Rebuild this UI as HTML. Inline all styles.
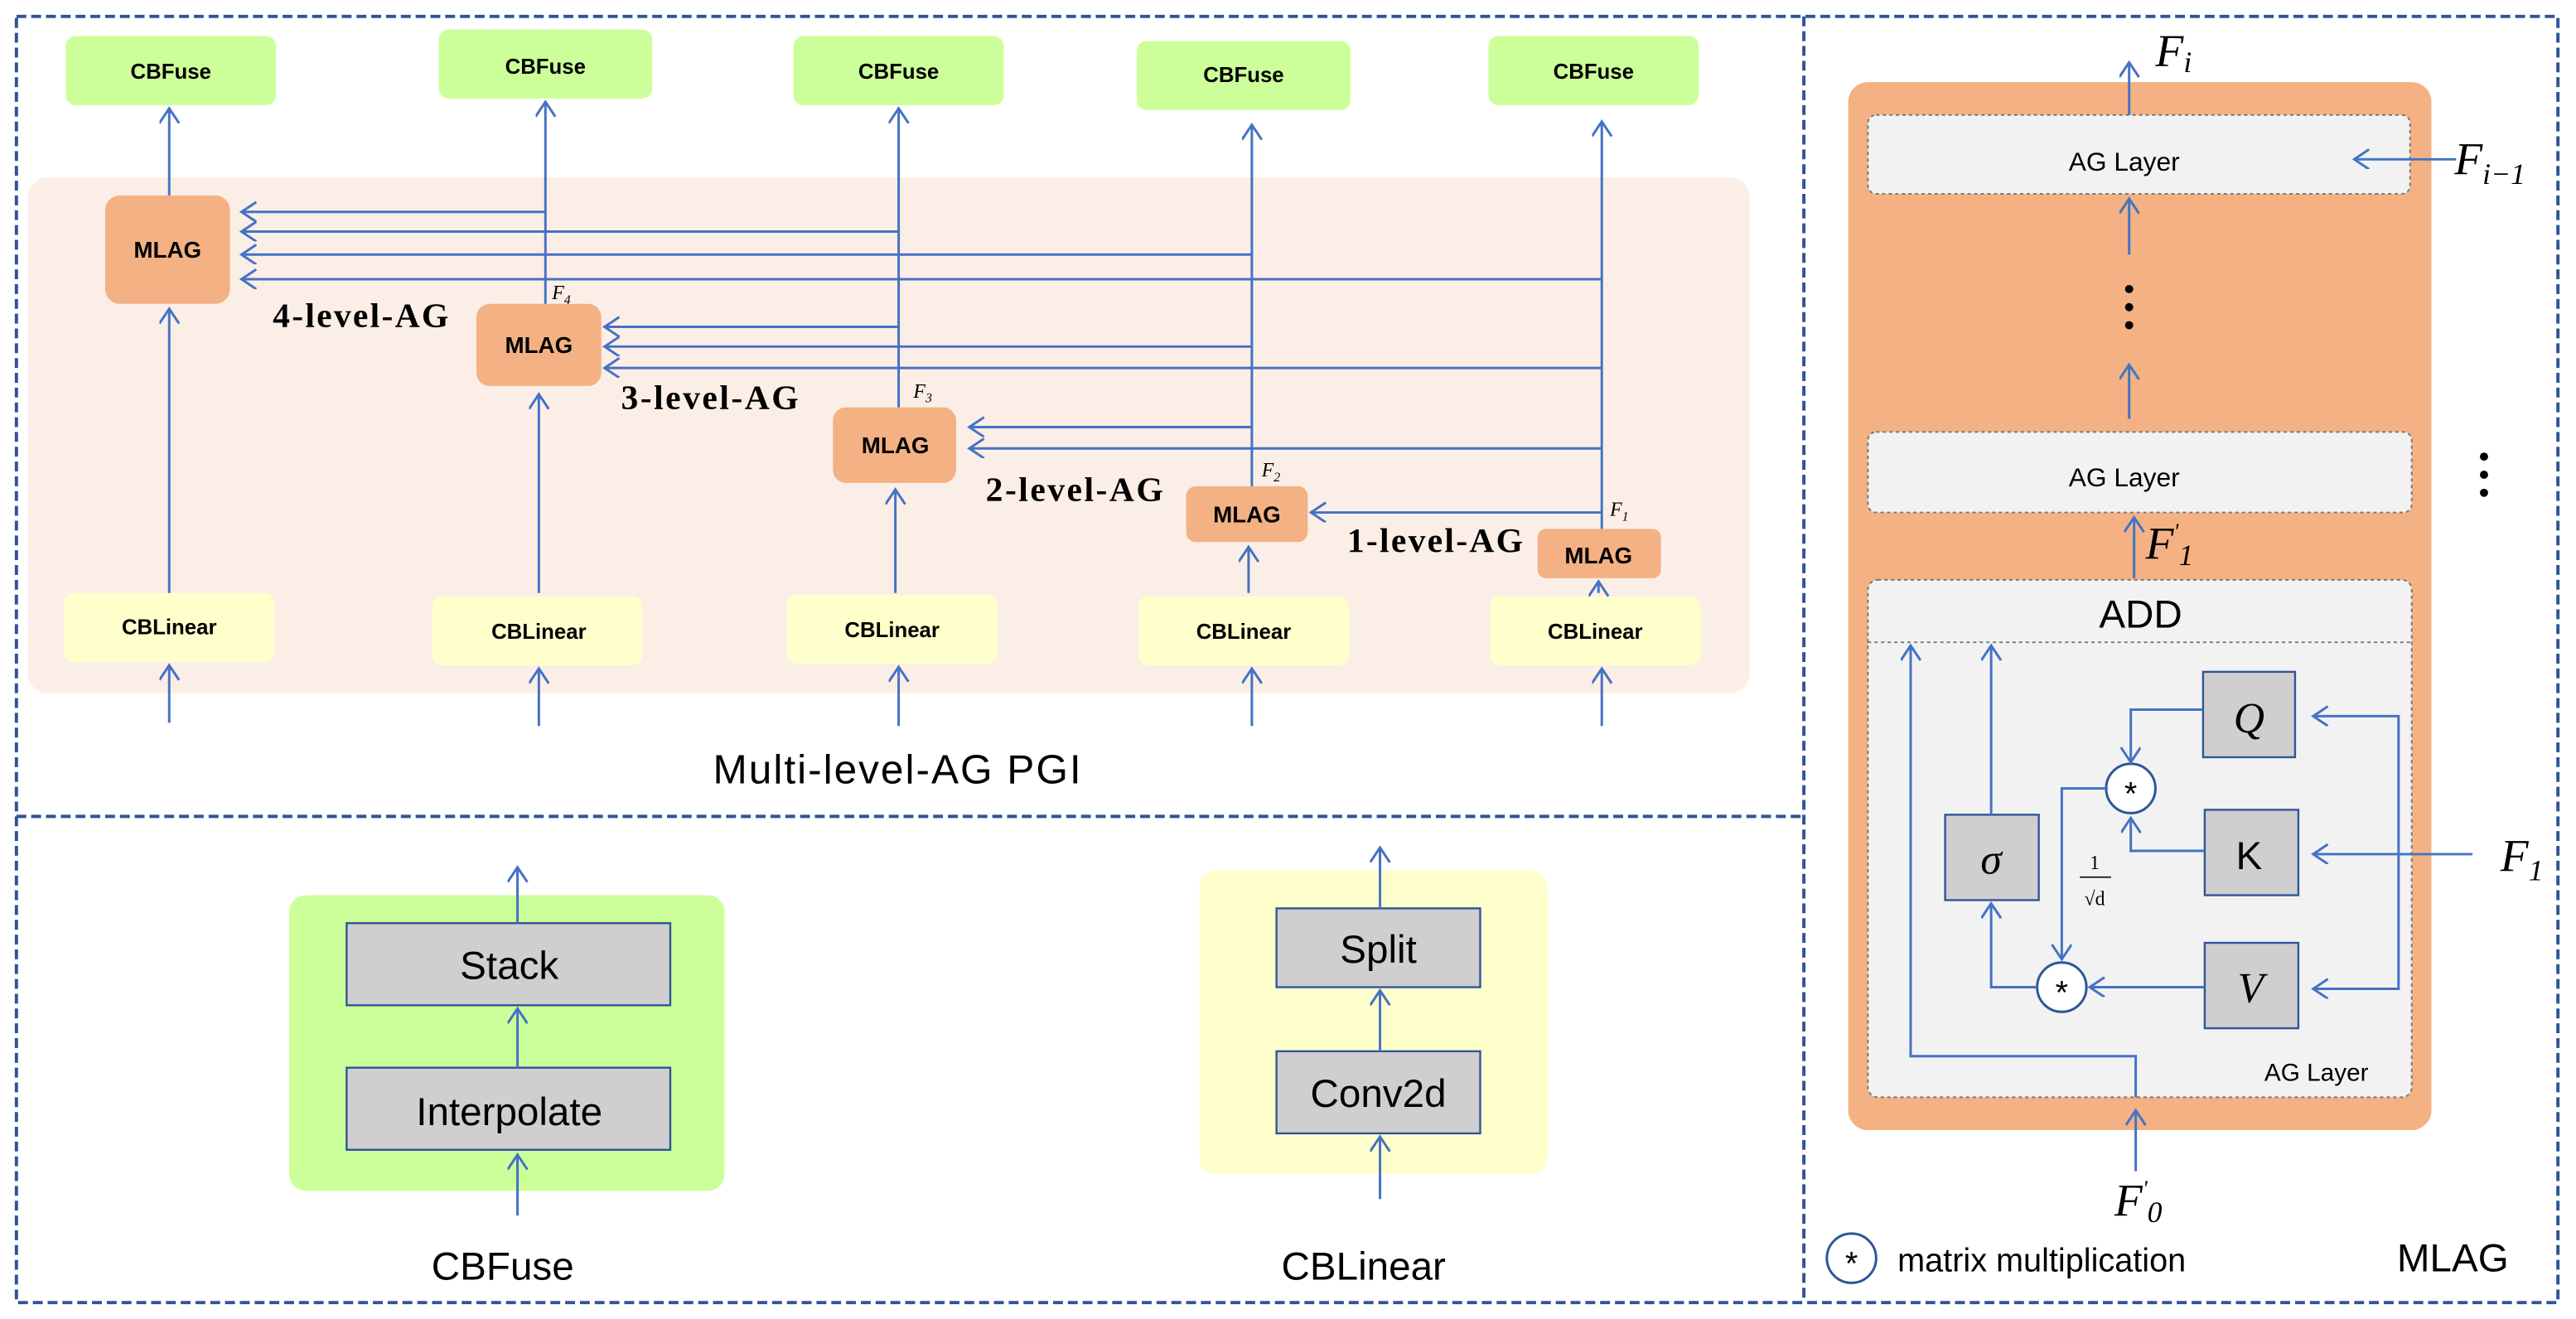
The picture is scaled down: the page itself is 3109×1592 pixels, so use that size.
<!DOCTYPE html>
<html><head><meta charset="utf-8"><style>
html,body{margin:0;padding:0;background:#fff}
svg{display:block}
text{font-family:"Liberation Sans",sans-serif;fill:#000}
.s{font-family:"Liberation Serif",serif}
</style></head><body>
<svg width="3109" height="1592" viewBox="0 0 1568 803" preserveAspectRatio="none" xmlns="http://www.w3.org/2000/svg">
<defs>
<marker id="a" markerWidth="14" markerHeight="14" refX="10" refY="6" orient="auto" markerUnits="userSpaceOnUse">
<path d="M1,0 L10,6 L1,12" fill="none" stroke="#4472c4" stroke-width="1.5"/>
</marker>
</defs>
<g fill="none" stroke="#2f5597" stroke-width="2" stroke-dasharray="6,3">
<rect x="10" y="10" width="1547" height="783"/>
<line x1="1098" y1="10" x2="1098" y2="793"/>
<line x1="10" y1="497" x2="1098" y2="497"/>
</g>
<rect x="17" y="108" width="1048" height="314" rx="12" fill="#fbeee6"/>
<g fill="#ccff99">
<rect x="40" y="22" width="128" height="42" rx="6"/>
<rect x="267" y="18" width="130" height="42" rx="6"/>
<rect x="483" y="22" width="128" height="42" rx="6"/>
<rect x="692" y="25" width="130" height="42" rx="6"/>
<rect x="906" y="22" width="128" height="42" rx="6"/>
</g>
<g font-size="13" font-weight="bold" text-anchor="middle">
<text x="104" y="48">CBFuse</text><text x="332" y="45">CBFuse</text><text x="547" y="48">CBFuse</text><text x="757" y="50">CBFuse</text><text x="970" y="48">CBFuse</text>
</g>
<g fill="#ffffcc">
<rect x="39" y="361" width="128" height="42" rx="6"/>
<rect x="263" y="363" width="128" height="42" rx="6"/>
<rect x="479" y="362" width="128" height="42" rx="6"/>
<rect x="693" y="363" width="128" height="42" rx="6"/>
<rect x="907" y="363" width="128" height="42" rx="6"/>
</g>
<g font-size="13" font-weight="bold" text-anchor="middle">
<text x="103" y="386">CBLinear</text><text x="328" y="389">CBLinear</text><text x="543" y="388">CBLinear</text><text x="757" y="389">CBLinear</text><text x="971" y="389">CBLinear</text>
</g>
<g fill="#f4b183">
<rect x="64" y="119" width="76" height="66" rx="9"/>
<rect x="290" y="185" width="76" height="50" rx="8"/>
<rect x="507" y="248" width="75" height="46" rx="8"/>
<rect x="722" y="296" width="74" height="34" rx="6"/>
<rect x="936" y="322" width="75" height="30" rx="5"/>
</g>
<g font-size="14" font-weight="bold" text-anchor="middle">
<text x="102" y="157">MLAG</text><text x="328" y="215">MLAG</text><text x="545" y="276">MLAG</text><text x="759" y="318">MLAG</text><text x="973" y="343">MLAG</text>
</g>
<g stroke="#4472c4" stroke-width="1.5" fill="none" marker-end="url(#a)">
<line x1="103" y1="119" x2="103" y2="66"/>
<line x1="103" y1="361" x2="103" y2="188"/>
<line x1="332" y1="185" x2="332" y2="62"/>
<line x1="328" y1="361" x2="328" y2="240"/>
<line x1="547" y1="248" x2="547" y2="66"/>
<line x1="545" y1="361" x2="545" y2="298"/>
<line x1="762" y1="296" x2="762" y2="76"/>
<line x1="760" y1="361" x2="760" y2="333"/>
<line x1="975" y1="322" x2="975" y2="74"/>
<line x1="973" y1="361" x2="973" y2="354"/>
<line x1="103" y1="440" x2="103" y2="405"/>
<line x1="328" y1="442" x2="328" y2="407"/>
<line x1="547" y1="442" x2="547" y2="406"/>
<line x1="762" y1="442" x2="762" y2="407"/>
<line x1="975" y1="442" x2="975" y2="407"/>
<line x1="332" y1="129" x2="147" y2="129"/>
<line x1="547" y1="141" x2="147" y2="141"/>
<line x1="762" y1="155" x2="147" y2="155"/>
<line x1="975" y1="170" x2="147" y2="170"/>
<line x1="547" y1="199" x2="368" y2="199"/>
<line x1="762" y1="211" x2="368" y2="211"/>
<line x1="975" y1="224" x2="368" y2="224"/>
<line x1="762" y1="260" x2="590" y2="260"/>
<line x1="975" y1="273" x2="590" y2="273"/>
<line x1="975" y1="312" x2="798" y2="312"/>
</g>
<g class="s" font-size="21" font-weight="bold">
<text class="s" x="166" y="199" textLength="107">4-level-AG</text>
<text class="s" x="378" y="249" textLength="108">3-level-AG</text>
<text class="s" x="600" y="305" textLength="108">2-level-AG</text>
<text class="s" x="820" y="336" textLength="107">1-level-AG</text>
</g>
<g font-size="12" font-style="italic">
<text class="s" x="336" y="182">F<tspan font-size="8" dy="3">4</tspan></text>
<text class="s" x="556" y="242">F<tspan font-size="8" dy="3">3</tspan></text>
<text class="s" x="768" y="290">F<tspan font-size="8" dy="3">2</tspan></text>
<text class="s" x="980" y="314">F<tspan font-size="8" dy="3">1</tspan></text>
</g>
<text x="546" y="477" font-size="25" text-anchor="middle" textLength="224">Multi-level-AG PGI</text>

<rect x="176" y="545" width="265" height="180" rx="10" fill="#ccff99"/>
<rect x="211" y="562" width="197" height="50" fill="#d0cece" stroke="#2f5597" stroke-width="1.2"/>
<rect x="211" y="650" width="197" height="50" fill="#d0cece" stroke="#2f5597" stroke-width="1.2"/>
<text x="310" y="596" font-size="24" text-anchor="middle">Stack</text>
<text x="310" y="685" font-size="24" text-anchor="middle">Interpolate</text>
<rect x="730" y="530" width="212" height="185" rx="10" fill="#ffffcc"/>
<rect x="777" y="553" width="124" height="48" fill="#d0cece" stroke="#2f5597" stroke-width="1.2"/>
<rect x="777" y="640" width="124" height="50" fill="#d0cece" stroke="#2f5597" stroke-width="1.2"/>
<text x="839" y="586" font-size="24" text-anchor="middle">Split</text>
<text x="839" y="674" font-size="24" text-anchor="middle">Conv2d</text>
<g stroke="#4472c4" stroke-width="1.5" fill="none" marker-end="url(#a)">
<line x1="315" y1="740" x2="315" y2="703"/>
<line x1="315" y1="650" x2="315" y2="614"/>
<line x1="315" y1="562" x2="315" y2="528"/>
<line x1="840" y1="730" x2="840" y2="692"/>
<line x1="840" y1="640" x2="840" y2="603"/>
<line x1="840" y1="553" x2="840" y2="516"/>
</g>
<text x="306" y="779" font-size="24" text-anchor="middle">CBFuse</text>
<text x="830" y="779" font-size="24" text-anchor="middle">CBLinear</text>

<rect x="1125" y="50" width="355" height="638" rx="12" fill="#f4b183"/>
<g fill="#f2f2f2" stroke="#777" stroke-width="1" stroke-dasharray="2,2">
<rect x="1137" y="70" width="330" height="48" rx="5"/>
<rect x="1137" y="263" width="331" height="49" rx="5"/>
<rect x="1137" y="353" width="331" height="315" rx="6"/>
<line x1="1137" y1="391" x2="1468" y2="391"/>
</g>
<text x="1293" y="104" font-size="16" text-anchor="middle">AG Layer</text>
<text x="1293" y="296" font-size="16" text-anchor="middle">AG Layer</text>
<text x="1303" y="382" font-size="24" text-anchor="middle">ADD</text>
<text x="1410" y="658" font-size="15" text-anchor="middle">AG Layer</text>
<g fill="#000">
<circle cx="1296" cy="176" r="2.5"/><circle cx="1296" cy="187" r="2.5"/><circle cx="1296" cy="198" r="2.5"/>
<circle cx="1512" cy="278" r="2.5"/><circle cx="1512" cy="289" r="2.5"/><circle cx="1512" cy="300" r="2.5"/>
</g>
<g fill="#d0cece" stroke="#2f5597" stroke-width="1.2">
<rect x="1341" y="409" width="56" height="52"/>
<rect x="1342" y="493" width="57" height="52"/>
<rect x="1342" y="574" width="57" height="52"/>
<rect x="1184" y="496" width="57" height="52"/>
</g>
<text class="s" x="1369" y="446" font-size="26" font-style="italic" text-anchor="middle">Q</text>
<text x="1369" y="529" font-size="24" text-anchor="middle">K</text>
<text class="s" x="1370" y="610" font-size="26" font-style="italic" text-anchor="middle">V</text>
<text class="s" x="1212" y="532" font-size="26" font-style="italic" text-anchor="middle">σ</text>
<g fill="#fff" stroke="#2f5597" stroke-width="1.5">
<circle cx="1297" cy="480" r="15"/><circle cx="1255" cy="601" r="15"/><circle cx="1127" cy="766" r="15"/>
</g>
<g font-size="20" text-anchor="middle"><text x="1297" y="490">*</text><text x="1255" y="611">*</text><text x="1127" y="776">*</text></g>
<g stroke="#4472c4" stroke-width="1.5" fill="none">
<polyline points="1341,432 1297,432 1297,464" marker-end="url(#a)"/>
<polyline points="1342,518 1297,518 1297,498" marker-end="url(#a)"/>
<polyline points="1283,480 1255,480 1255,584" marker-end="url(#a)"/>
<line x1="1342" y1="601" x2="1272" y2="601" marker-end="url(#a)"/>
<polyline points="1240,601 1212,601 1212,550" marker-end="url(#a)"/>
<line x1="1212" y1="496" x2="1212" y2="393" marker-end="url(#a)"/>
<polyline points="1300,668 1300,643 1163,643 1163,393" marker-end="url(#a)"/>
<line x1="1300" y1="713" x2="1300" y2="676" marker-end="url(#a)"/>
<line x1="1505" y1="520" x2="1408" y2="520" marker-end="url(#a)"/>
<polyline points="1460,520 1460,436 1408,436" marker-end="url(#a)"/>
<polyline points="1460,520 1460,602 1408,602" marker-end="url(#a)"/>
<line x1="1296" y1="70" x2="1296" y2="38" marker-end="url(#a)"/>
<line x1="1296" y1="155" x2="1296" y2="121" marker-end="url(#a)"/>
<line x1="1296" y1="255" x2="1296" y2="222" marker-end="url(#a)"/>
<line x1="1299" y1="352" x2="1299" y2="315" marker-end="url(#a)"/>
<line x1="1495" y1="97" x2="1433" y2="97" marker-end="url(#a)"/>
</g>
<text class="s" x="1275" y="529" font-size="12" text-anchor="middle">1</text>
<line x1="1266" y1="534" x2="1285" y2="534" stroke="#000" stroke-width="0.8"/>
<text class="s" x="1275" y="551" font-size="12" text-anchor="middle">√d</text>
<g class="s" font-style="italic" font-size="28">
<text class="s" x="1312" y="40">F<tspan font-size="18" dy="4">i</tspan></text>
<text class="s" x="1494" y="106">F<tspan font-size="18" dy="6">i−1</tspan></text>
<text class="s" x="1306" y="340">F<tspan font-size="14" dy="-12">'</tspan><tspan font-size="18" dy="16">1</tspan></text>
<text class="s" x="1522" y="530">F<tspan font-size="18" dy="6">1</tspan></text>
<text class="s" x="1287" y="740">F<tspan font-size="14" dy="-12">'</tspan><tspan font-size="18" dy="16">0</tspan></text>
</g>
<text x="1155" y="774" font-size="20">matrix multiplication</text>
<text x="1493" y="774" font-size="24" text-anchor="middle">MLAG</text>
</svg>
</body></html>
